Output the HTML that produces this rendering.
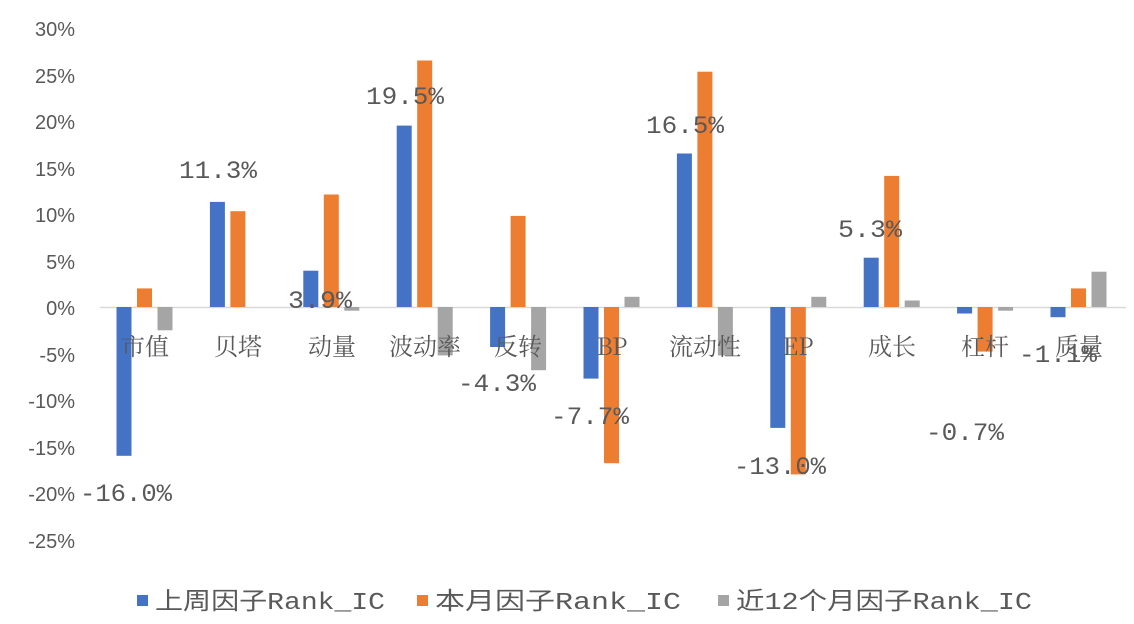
<!DOCTYPE html>
<html><head><meta charset="utf-8"><style>body{margin:0;background:#fff}svg{display:block}</style></head><body>
<svg width="1134" height="624" xmlns="http://www.w3.org/2000/svg">
<rect width="1134" height="624" fill="#fff"/>
<g font-family="Liberation Sans, Noto Sans CJK SC, sans-serif" font-size="20" fill="#595959" text-anchor="end">
<text x="75" y="36">30%</text><text x="75" y="83">25%</text><text x="75" y="129">20%</text><text x="75" y="176">15%</text><text x="75" y="222">10%</text><text x="75" y="269">5%</text><text x="75" y="315">0%</text><text x="75" y="362">-5%</text><text x="75" y="408">-10%</text><text x="75" y="455">-15%</text><text x="75" y="501">-20%</text><text x="75" y="548">-25%</text>
</g>
<line x1="100" y1="307.5" x2="1126" y2="307.5" stroke="#d9d9d9" stroke-width="1.5"/>
<g fill="#4472c4">
<rect x="116.5" y="307" width="15" height="148.8"/>
<rect x="209.9" y="201.9" width="15" height="105.1"/>
<rect x="303.3" y="270.7" width="15" height="36.3"/>
<rect x="396.7" y="125.6" width="15" height="181.4"/>
<rect x="490.1" y="307" width="15" height="40"/>
<rect x="583.5" y="307" width="15" height="71.6"/>
<rect x="676.9" y="153.5" width="15" height="153.5"/>
<rect x="770.3" y="307" width="15" height="120.9"/>
<rect x="863.7" y="257.7" width="15" height="49.3"/>
<rect x="957.1" y="307" width="15" height="6.5"/>
<rect x="1050.5" y="307" width="15" height="10.2"/>
</g>
<g fill="#ed7d31">
<rect x="137" y="288.4" width="15" height="18.6"/>
<rect x="230.4" y="211.2" width="15" height="95.8"/>
<rect x="323.8" y="194.5" width="15" height="112.5"/>
<rect x="417.2" y="60.5" width="15" height="246.5"/>
<rect x="510.6" y="215.9" width="15" height="91.1"/>
<rect x="604" y="307" width="15" height="156.2"/>
<rect x="697.4" y="71.7" width="15" height="235.3"/>
<rect x="790.8" y="307" width="15" height="167.4"/>
<rect x="884.2" y="175.9" width="15" height="131.1"/>
<rect x="977.6" y="307" width="15" height="44.6"/>
<rect x="1071" y="288.4" width="15" height="18.6"/>
</g>
<g fill="#a5a5a5">
<rect x="157.5" y="307" width="15" height="23.3"/>
<rect x="344.3" y="307" width="15" height="3.7"/>
<rect x="437.7" y="307" width="15" height="48.4"/>
<rect x="531.1" y="307" width="15" height="63.2"/>
<rect x="624.5" y="296.8" width="15" height="10.2"/>
<rect x="717.9" y="307" width="15" height="48.4"/>
<rect x="811.3" y="296.8" width="15" height="10.2"/>
<rect x="904.7" y="300.5" width="15" height="6.5"/>
<rect x="998.1" y="307" width="15" height="3.7"/>
<rect x="1091.5" y="271.7" width="15" height="35.3"/>
</g>
<g font-family="Noto Serif CJK SC, serif" font-size="24" fill="#595959" text-anchor="middle">
<text x="145" y="355">市值</text><text x="238" y="355">贝塔</text><text x="332" y="355">动量</text><text x="425" y="355">波动率</text><text x="518" y="355">反转</text><text x="612" y="355">BP</text><text x="705" y="355">流动性</text><text x="798" y="355">EP</text><text x="892" y="355">成长</text><text x="985" y="355">杠杆</text><text x="1079" y="355">质量</text>
</g>
<g font-family="Liberation Mono, Noto Sans CJK SC, monospace" font-size="25" fill="#595959" text-anchor="middle">
<text x="126" y="501" textLength="92" lengthAdjust="spacingAndGlyphs">-16.0%</text>
<text x="218" y="178" textLength="78" lengthAdjust="spacingAndGlyphs">11.3%</text>
<text x="320" y="308" textLength="64" lengthAdjust="spacingAndGlyphs">3.9%</text>
<text x="405" y="104" textLength="78" lengthAdjust="spacingAndGlyphs">19.5%</text>
<text x="497" y="391" textLength="78" lengthAdjust="spacingAndGlyphs">-4.3%</text>
<text x="590" y="424" textLength="78" lengthAdjust="spacingAndGlyphs">-7.7%</text>
<text x="685" y="133" textLength="78" lengthAdjust="spacingAndGlyphs">16.5%</text>
<text x="780" y="474" textLength="92" lengthAdjust="spacingAndGlyphs">-13.0%</text>
<text x="870" y="237" textLength="64" lengthAdjust="spacingAndGlyphs">5.3%</text>
<text x="965" y="440" textLength="78" lengthAdjust="spacingAndGlyphs">-0.7%</text>
<text x="1058" y="362" textLength="78" lengthAdjust="spacingAndGlyphs">-1.1%</text>
</g>
<g font-family="Liberation Mono, Noto Sans CJK SC, monospace" font-size="24" fill="#595959">
<rect x="137" y="595" width="11" height="11" fill="#4472c4"/><text x="155" y="609" textLength="230" lengthAdjust="spacingAndGlyphs">上周因子Rank_IC</text>
<rect x="417" y="595" width="11" height="11" fill="#ed7d31"/><text x="435" y="609" textLength="246" lengthAdjust="spacingAndGlyphs">本月因子Rank_IC</text>
<rect x="718" y="595" width="11" height="11" fill="#a5a5a5"/><text x="736" y="609" textLength="296" lengthAdjust="spacingAndGlyphs">近12个月因子Rank_IC</text>
</g>
</svg>
</body></html>
